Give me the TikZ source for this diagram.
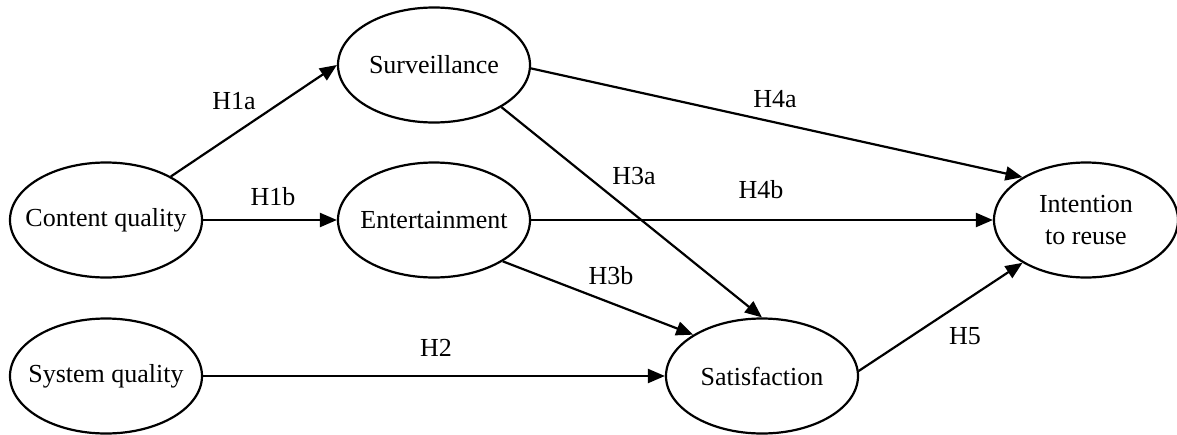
\documentclass[tikz,border=0pt]{standalone}
\usepackage{fontspec}
\setmainfont{Liberation Serif}
\usetikzlibrary{arrows.meta,shapes.geometric}
\begin{document}
\begin{tikzpicture}[x=1pt,y=-1pt,
  construct/.style={draw,ellipse,line width=2.2pt,minimum width=192pt,minimum height=115pt,
    inner xsep=-20pt,inner ysep=0pt,align=center,font=\fontsize{26}{32}\selectfont},
  path/.style={line width=2.2pt,-{Triangle[length=17pt,width=14pt]}},
  hyp/.style={font=\fontsize{26}{32}\selectfont,inner sep=0pt}]
  \useasboundingbox (0,0) rectangle (1177,434);
  % constructs
  \node[construct] (cq)   at (106,220) {Content quality};
  \node[construct] (surv) at (434,65)  {Surveillance};
  \node[construct] (ent)  at (434,220) {Entertainment};
  \node[construct] (sq)   at (106,376) {System quality};
  \node[construct] (sat)  at (762,376) {Satisfaction};
  \node[construct,minimum width=184pt] (int) at (1086,220) {Intention\\to reuse};
  % hypothesised paths
  \draw[path] (cq) -- (surv.west);
  \draw[path] (cq.east) -- (ent.west);
  \draw[path] (sq.east) -- (sat.west);
  \draw[path] (surv.-32) -- (sat.north);
  \draw[path] (ent.-31) -- (sat.149);
  \draw[path] (surv.-2) -- (int.146);
  \draw[path] (ent.east) -- (int.west);
  \draw[path] (sat.3) -- (int.214);
  % path labels
  \node[hyp] (h1a) at (234,101) {H1a};
  \node[hyp] (h1b) at (273,197) {H1b};
  \node[hyp] (h2)  at (436,348) {H2};
  \node[hyp] (h3a) at (634,176) {H3a};
  \node[hyp] (h3b) at (611,276) {H3b};
  \node[hyp] (h4a) at (775,99)  {H4a};
  \node[hyp] (h4b) at (761,190) {H4b};
  \node[hyp] (h5)  at (965,336) {H5};
\end{tikzpicture}
\end{document}
